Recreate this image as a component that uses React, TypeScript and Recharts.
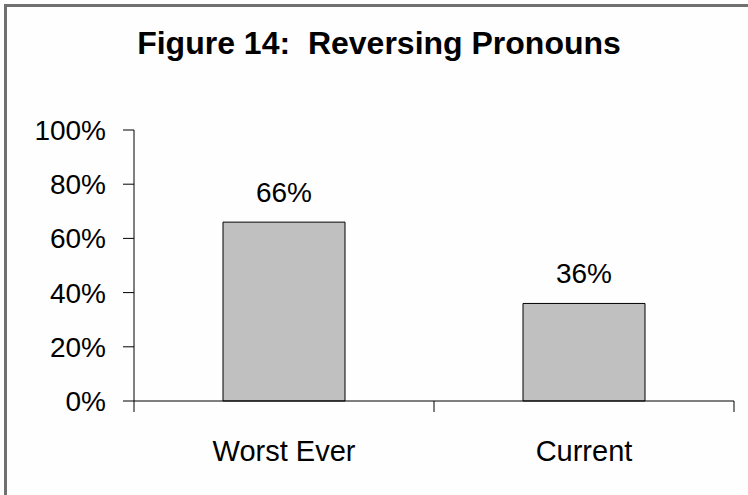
import React from "react";
import { BarChart, Bar, XAxis, YAxis, LabelList } from "recharts";

const categories = ["Worst Ever", "Current"];
const values = [0.66, 0.36];
const yTicks = [0, 0.2, 0.4, 0.6, 0.8, 1];
const xTicks = [0, 0.5, 1, 1.5, 2];
const title = "Figure 14:  Reversing Pronouns";

// bars sit in the middle of each category slot on a numeric axis
const data = categories.map((name, i) => ({ name, pos: i + 0.5, value: values[i] }));

const pct = (v: number) => `${Math.round(v * 100)}%`;
const font = "'Liberation Sans', Arial, sans-serif";

function XTick(props: any) {
    const { x, y, payload } = props;
    const v = payload.value as number;
    if (Number.isInteger(v)) {
        return <line x1={x} x2={x} y1={y} y2={y + 11} stroke="#000" />;
    }
    return (
        <text
            x={x}
            y={y + 39}
            dy="0.71em"
            textAnchor="middle"
            fill="#000"
            fontSize={29}
            fontFamily={font}
        >
            {categories[Math.floor(v)]}
        </text>
    );
}

export default function App() {
    return (
        <div
            style={{
                position: "absolute",
                left: 0,
                top: 0,
                width: 748,
                height: 495,
                overflow: "hidden",
                background: "#fefefe",
                fontFamily: font,
            }}
        >
            <div
                style={{
                    position: "absolute",
                    left: 4,
                    top: 4,
                    width: 780,
                    height: 540,
                    border: "3px solid #707070",
                }}
            />
            <div
                style={{
                    position: "absolute",
                    left: 4,
                    top: 28,
                    width: 750,
                    textAlign: "center",
                    fontSize: 32,
                    lineHeight: "30px",
                    fontWeight: "bold",
                    color: "#000",
                    whiteSpace: "pre",
                }}
            >
                {title}
            </div>
            <div style={{ position: "absolute", left: 0, top: 0 }}>
                <BarChart
                    width={748}
                    height={495}
                    data={data}
                    margin={{ top: 130, right: 14, left: 0, bottom: 0 }}
                >
                    <XAxis
                        dataKey="pos"
                        type="number"
                        domain={[0, 2]}
                        ticks={xTicks}
                        interval={0}
                        tick={<XTick />}
                        tickLine={false}
                        tickSize={0}
                        tickMargin={0}
                        height={94}
                        stroke="#000"
                    />
                    <YAxis
                        width={134}
                        domain={[0, 1]}
                        ticks={yTicks}
                        tickFormatter={pct}
                        tickSize={11}
                        tickMargin={17}
                        stroke="#000"
                        tick={{ fill: "#000", fontSize: 28, fontFamily: font }}
                    />
                    <Bar
                        dataKey="value"
                        fill="#c0c0c0"
                        stroke="#000"
                        barSize={122}
                        isAnimationActive={false}
                    >
                        <LabelList
                            dataKey="value"
                            position="top"
                            offset={20}
                            formatter={(v: number) => pct(v)}
                            style={{ fill: "#000", fontSize: 28, fontFamily: font }}
                        />
                    </Bar>
                </BarChart>
            </div>
        </div>
    );
}
